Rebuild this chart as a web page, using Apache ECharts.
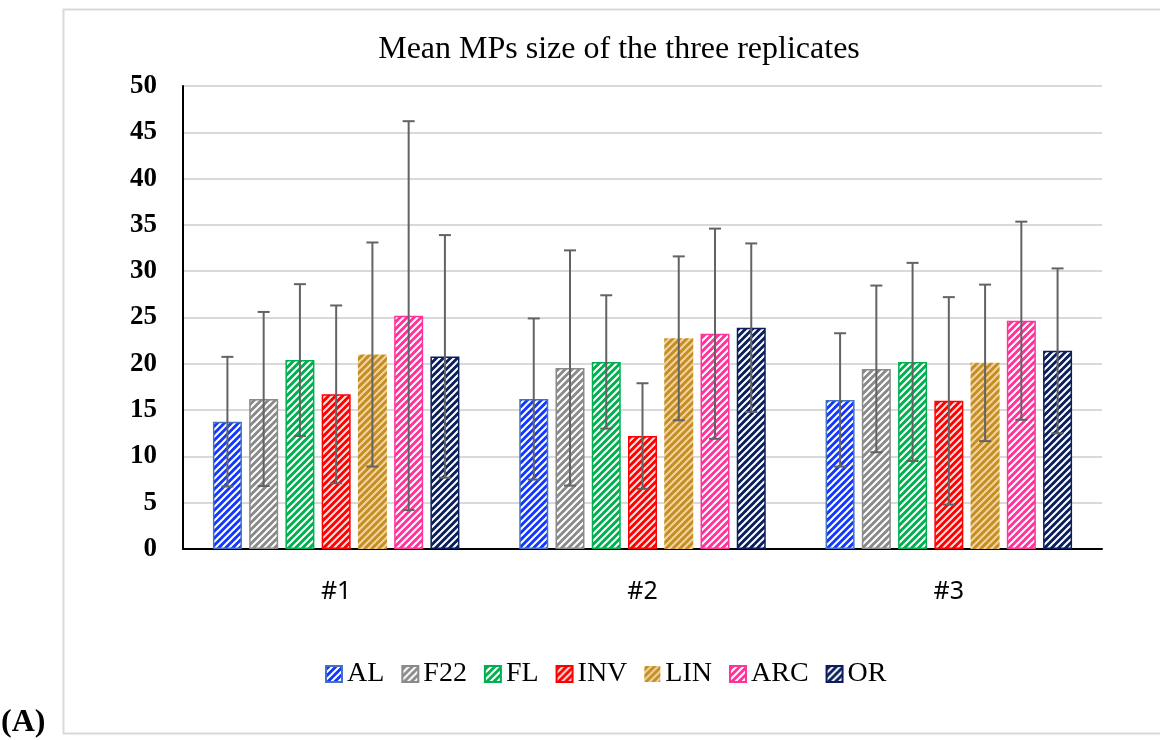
<!DOCTYPE html>
<html>
<head>
<meta charset="utf-8">
<script src="https://cdn.jsdelivr.net/npm/echarts@6/dist/echarts.min.js"></script>
<style>html,body{margin:0;padding:0;background:#fff;}#main{width:1160px;height:740px;}</style>
</head>
<body>
<div id="main"></div>
<script>
// ---- data ----
const categories = ['#1', '#2', '#3'];
const yTicks = [0, 5, 10, 15, 20, 25, 30, 35, 40, 45, 50];
const seriesNames = ['AL', 'F22', 'FL', 'INV', 'LIN', 'ARC', 'OR'];
const meanAL  = [13.75, 16.2, 16.1];
const meanF22 = [16.2, 19.55, 19.45];
const meanFL  = [20.4, 20.2, 20.2];
const meanINV = [16.7, 12.2, 16.0];
const meanLIN = [21.0, 22.75, 20.1];
const meanARC = [25.2, 23.25, 24.65];
const meanOR  = [20.8, 23.9, 21.4];
const errAL  = [7.0, 8.7, 7.2];
const errF22 = [9.4, 12.7, 9.0];
const errFL  = [8.2, 7.2, 10.7];
const errINV = [9.6, 5.7, 11.2];
const errLIN = [12.1, 8.85, 8.45];
const errARC = [21.0, 11.35, 10.7];
const errOR  = [13.1, 9.1, 8.9];

const means = [meanAL, meanF22, meanFL, meanINV, meanLIN, meanARC, meanOR];
const errs = [errAL, errF22, errFL, errINV, errLIN, errARC, errOR];

// ---- styles ----
const styles = [
  {bg: '#1238ff', fg: '#ffffff', border: '#4472c4', bw: 1.5},
  {bg: '#8a8a8a', fg: '#ffffff', border: '#8a8a8a', bw: 1.5},
  {bg: '#00b050', fg: '#ffffff', border: '#00b050', bw: 1.5},
  {bg: '#ff0000', fg: '#ffe0e0', border: '#ff0000', bw: 1.5},
  {bg: '#c09020', fg: '#f7d0a4', border: '#f7d0a4', bw: 0},
  {bg: '#ff3399', fg: '#ffffff', border: '#ff3399', bw: 1.5},
  {bg: '#0a1f5c', fg: '#ffffff', border: '#0a1f5c', bw: 1.5}
];

function makePattern(bg, fg) {
  const s = 7;
  const c = document.createElement('canvas');
  c.width = s; c.height = s;
  const g = c.getContext('2d');
  g.fillStyle = bg; g.fillRect(0, 0, s, s);
  g.strokeStyle = fg; g.lineWidth = 2.0;
  g.beginPath();
  for (let k = -1; k <= 1; k++) {
    g.moveTo(k * s - 1, s + 1); g.lineTo(k * s + s + 1, -1);
  }
  g.stroke();
  return {image: c, repeat: 'repeat'};
}

const BAR_W = 29;
const GAP = 0.25;

function errRenderer(idx) {
  return function (params, api) {
    const cat = api.value(0), lo = api.value(1), hi = api.value(2);
    const off = (idx - (seriesNames.length - 1) / 2) * BAR_W * (1 + GAP);
    const pHi = api.coord([cat, hi]);
    const pLo = api.coord([cat, lo]);
    const x = pHi[0] + off;
    const cap = 6;
    const st = {stroke: '#636363', lineWidth: 2};
    return {type: 'group', children: [
      {type: 'line', shape: {x1: x, y1: pHi[1], x2: x, y2: pLo[1]}, style: st},
      {type: 'line', shape: {x1: x - cap, y1: pHi[1], x2: x + cap, y2: pHi[1]}, style: st},
      {type: 'line', shape: {x1: x - cap, y1: pLo[1], x2: x + cap, y2: pLo[1]}, style: st}
    ]};
  };
}

const series = [];
seriesNames.forEach((name, i) => {
  series.push({
    name: name, type: 'bar', barWidth: BAR_W, barGap: (GAP * 100) + '%',
    data: means[i],
    itemStyle: {color: makePattern(styles[i].bg, styles[i].fg), borderColor: styles[i].border, borderWidth: styles[i].bw},
    emphasis: {disabled: true},
    z: 2
  });
});
seriesNames.forEach((name, i) => {
  series.push({
    name: name + '_err', type: 'custom',
    renderItem: errRenderer(i),
    data: categories.map((c, k) => [k, means[i][k] - errs[i][k], means[i][k] + errs[i][k]]),
    encode: {x: 0, y: [1, 2]},
    z: 5, silent: true
  });
});

const chart = echarts.init(document.getElementById('main'), null, {renderer: 'canvas'});
chart.setOption({
  animation: false,
  backgroundColor: '#ffffff',
  title: {
    text: 'Mean MPs size of the three replicates',
    left: 614, top: 29, textAlign: 'center',
    textStyle: {fontFamily: 'Liberation Serif', fontSize: 32, fontWeight: 'normal', color: '#000'}
  },
  legend: {
    data: seriesNames,
    left: 320, top: 655,
    icon: 'rect', itemWidth: 16, itemHeight: 16, itemGap: 17,
    textStyle: {fontFamily: 'Liberation Serif', fontSize: 28, color: '#000', padding: [0, 0, 0, 0]}
  },
  grid: {left: 183, right: 58, top: 86, bottom: 191, containLabel: false},
  xAxis: {
    type: 'category', data: categories,
    axisLine: {lineStyle: {color: '#000', width: 2}},
    axisTick: {show: false},
    axisLabel: {fontFamily: 'Noto Sans', fontSize: 25, color: '#000', margin: 30}
  },
  yAxis: {
    type: 'value', min: yTicks[0], max: yTicks[yTicks.length - 1], interval: 5,
    axisLine: {show: true, lineStyle: {color: '#000', width: 2}},
    axisTick: {show: false},
    splitLine: {lineStyle: {color: '#d9d9d9', width: 2}},
    axisLabel: {fontFamily: 'Liberation Serif', fontWeight: 'bold', fontSize: 27, color: '#000', margin: 26}
  },
  graphic: [
    {type: 'rect', left: 61, top: 7, shape: {x: 0, y: 0, width: 1200, height: 724}, style: {fill: 'none', stroke: '#d9d9d9', lineWidth: 2}, silent: true},
    {type: 'text', left: 1, top: 707, style: {text: '(A)', font: 'bold 32px "Liberation Serif"', fill: '#000'}}
  ],
  series: series
});
</script>
</body>
</html>
